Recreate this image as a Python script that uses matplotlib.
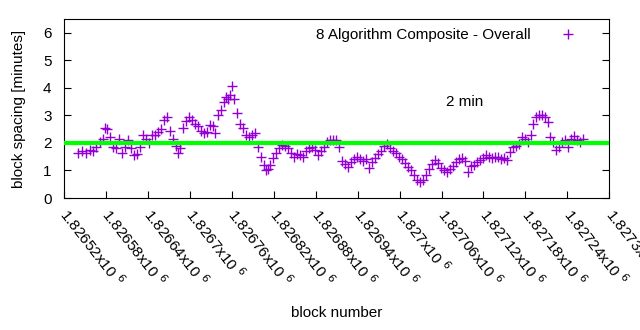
import matplotlib
matplotlib.use('Agg')
import matplotlib.pyplot as plt

plt.rcParams['font.family'] = ['Liberation Sans', 'DejaVu Sans']

# block numbers and spacing (minutes)
blocks = [1826540, 1826546, 1826551, 1826557, 1826561, 1826566, 1826571, 1826576, 1826579, 1826581,
          1826586, 1826590, 1826594, 1826599, 1826603, 1826607, 1826611, 1826616, 1826620, 1826624,
          1826629, 1826633, 1826637, 1826642, 1826646, 1826650, 1826654, 1826659, 1826663, 1826667,
          1826672, 1826676, 1826680, 1826683, 1826686, 1826690, 1826694, 1826699, 1826703, 1826707,
          1826712, 1826716, 1826720, 1826724, 1826729, 1826733, 1826736, 1826740, 1826744, 1826749,
          1826752, 1826754, 1826757, 1826760, 1826763, 1826767, 1826772, 1826776, 1826780, 1826785,
          1826789, 1826793, 1826797, 1826802, 1826806, 1826809, 1826812, 1826815, 1826819, 1826823,
          1826827, 1826832, 1826836, 1826840, 1826845, 1826849, 1826853, 1826857, 1826862, 1826866,
          1826870, 1826875, 1826879, 1826883, 1826887, 1826892, 1826896, 1826900, 1826905, 1826909,
          1826913, 1826918, 1826922, 1826926, 1826930, 1826935, 1826939, 1826943, 1826948, 1826952,
          1826956, 1826960, 1826965, 1826969, 1826973, 1826978, 1826982, 1826986, 1826990, 1826995,
          1826999, 1827003, 1827008, 1827012, 1827016, 1827020, 1827025, 1827029, 1827033, 1827038,
          1827042, 1827046, 1827050, 1827055, 1827059, 1827063, 1827068, 1827072, 1827076, 1827081,
          1827085, 1827089, 1827093, 1827098, 1827102, 1827106, 1827111, 1827115, 1827119, 1827123,
          1827128, 1827132, 1827136, 1827141, 1827145, 1827149, 1827153, 1827158, 1827162, 1827166,
          1827171, 1827175, 1827179, 1827184, 1827188, 1827191, 1827195, 1827199, 1827204, 1827208,
          1827212, 1827215, 1827219, 1827224, 1827228, 1827232, 1827236, 1827241, 1827245, 1827249,
          1827254, 1827258, 1827262]
spacing = [1.65, 1.70, 1.62, 1.75, 1.72, 1.85, 2.05, 2.15, 2.55, 2.50,
           2.20, 1.85, 1.80, 2.15, 1.65, 1.85, 2.10, 1.80, 1.55, 1.60,
           1.85, 2.30, 2.15, 2.00, 2.30, 2.30, 2.40, 2.50, 2.85, 2.95,
           2.45, 2.15, 1.90, 1.65, 1.80, 2.55, 2.80, 2.95, 2.85, 2.70,
           2.60, 2.45, 2.35, 2.40, 2.65, 2.60, 2.35, 3.00, 3.20, 3.50,
           3.65, 3.60, 3.75, 4.05, 3.60, 3.10, 2.70, 2.55, 2.30, 2.20,
           2.30, 2.35, 1.85, 1.50, 1.20, 1.02, 1.05, 1.20, 1.45, 1.65,
           1.80, 1.93, 1.90, 1.80, 1.65, 1.50, 1.60, 1.55, 1.50, 1.70,
           1.80, 1.85, 1.75, 1.55, 1.70, 1.85, 2.05, 2.10, 2.12, 2.10,
           1.85, 1.35, 1.25, 1.12, 1.30, 1.42, 1.50, 1.40, 1.35, 1.40,
           1.10, 1.30, 1.45, 1.60, 1.72, 1.90, 1.95, 1.80, 1.70, 1.62,
           1.50, 1.42, 1.27, 1.12, 1.00, 0.82, 0.65, 0.58, 0.65, 0.85,
           1.05, 1.25, 1.38, 1.27, 1.10, 1.00, 0.95, 1.05, 1.15, 1.30,
           1.40, 1.45, 1.35, 0.95, 1.15, 1.20, 1.30, 1.38, 1.45, 1.55,
           1.50, 1.45, 1.50, 1.48, 1.42, 1.45, 1.38, 1.67, 1.85, 1.90,
           1.95, 2.20, 2.15, 2.05, 2.30, 2.70, 2.95, 3.00, 3.00, 2.95,
           2.75, 2.20, 2.05, 1.75, 1.85, 2.05, 2.10, 1.85, 2.15, 2.25,
           2.10, 2.05, 2.15]

target = 2.0
xticks = [1826520 + 60 * i for i in range(14)]
xtick_labels = ['1.82652', '1.82658', '1.82664', '1.8267', '1.82676', '1.82682', '1.82688',
                '1.82694', '1.827', '1.82706', '1.82712', '1.82718', '1.82724', '1.8273']

fs = 11
fig = plt.figure(figsize=(6.4, 3.3), dpi=100)
ax = fig.add_axes([0.1, 0.4, 0.852, 0.5424])

ax.plot(blocks, spacing, linestyle='none', marker='+', markersize=6.5,
        markeredgewidth=1.0, color='#9400d3', label='8 Algorithm Composite - Overall', zorder=2)
ax.axhline(target, color='#00ff00', linewidth=3, zorder=3)
ax.text(1827093, 3.49, '2 min', fontsize=fs, ha='center', va='center')

ax.set_xlim(1826520, 1827300)
ax.set_ylim(0, 6.5)
ax.set_yticks(range(7))
ax.set_xticks(xticks)
ax.set_xticklabels([s + 'x10 $^{6}$' for s in xtick_labels], rotation=-52,
                   ha='left', va='center', rotation_mode='anchor', fontsize=fs)
ax.tick_params(axis='both', direction='in', length=5, width=0.8, labelsize=fs)
ax.tick_params(axis='y', right=True, pad=9)
ax.tick_params(axis='x', pad=9)

ax.set_xlabel('block number', fontsize=fs, labelpad=12)
ax.set_ylabel('block spacing [minutes]', fontsize=fs, labelpad=12)

ax.legend(loc='upper right', bbox_to_anchor=(0.985, 1.025), frameon=False, markerfirst=False,
          fontsize=fs, handlelength=2.5, handletextpad=1.2)

plt.savefig('out.png', dpi=100)
